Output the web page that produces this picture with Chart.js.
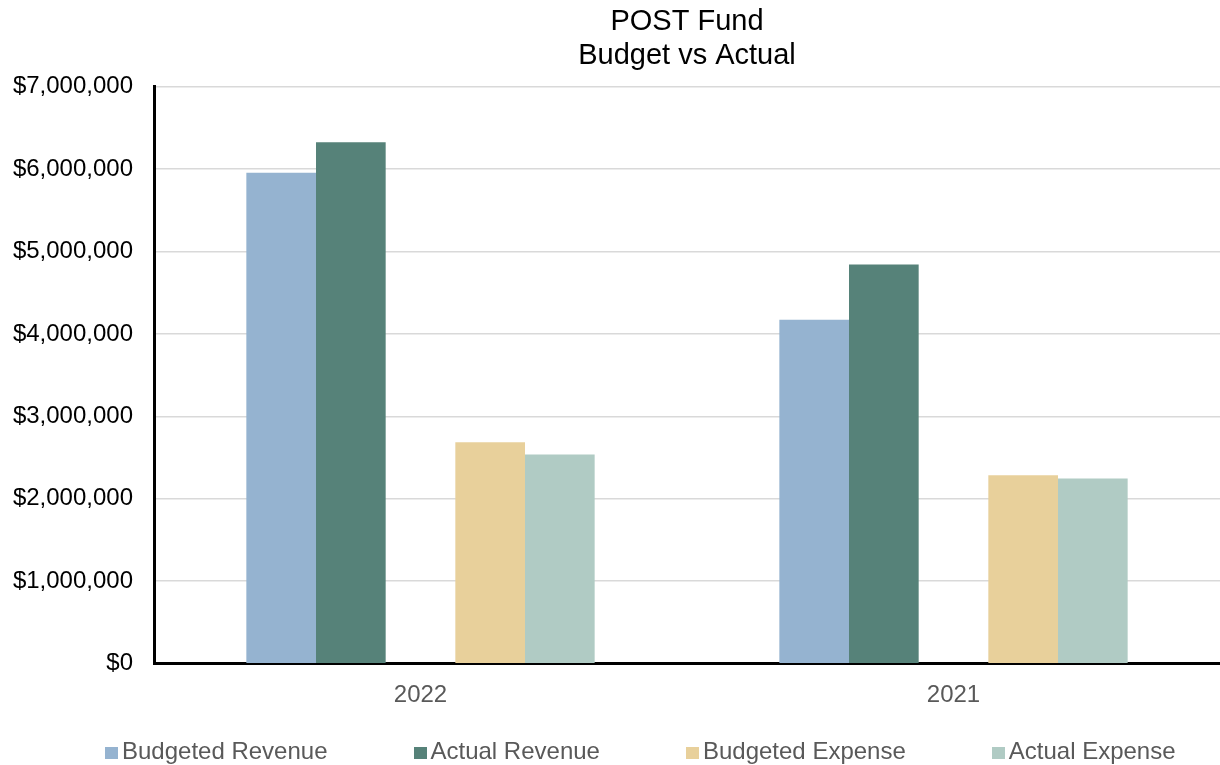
<!DOCTYPE html>
<html>
<head>
<meta charset="utf-8">
<script src="https://cdn.jsdelivr.net/npm/chart.js@4.4.0/dist/chart.umd.min.js"></script>
<style>
    body { margin: 0; background: #fff; }
    #wrap { position: relative; width: 1220px; height: 765px; }
    #legenda {
        position: absolute; left: 105px; top: 738px;
        display: flex; gap: 86px;
        font: 24px 'Liberation Sans', Arial, sans-serif; line-height: 26px;
        color: #595959; white-space: nowrap;
    }
    #legenda span.box { display: inline-block; width: 13px; height: 12px; margin-right: 4px; }
</style>
</head>
<body>
<div id="wrap">
    <canvas id="graficoFundo" width="1220" height="765"></canvas>
    <div id="legenda"></div>
</div>
<script>
const anos = ['2022', '2021'];
const receitaOrcada = [5954000, 4171000];
const receitaReal = [6323000, 4843000];
const despesaOrcada = [2687000, 2287000];
const despesaReal = [2538000, 2247000];
const ticksY = [0, 1000000, 2000000, 3000000, 4000000, 5000000, 6000000, 7000000];

Chart.defaults.font.family = "'Liberation Sans', Arial, sans-serif";

const ctx = document.getElementById('graficoFundo').getContext('2d');
const grafico = new Chart(ctx, {
    type: 'bar',
    data: {
        labels: anos,
        datasets: [
            { label: 'Budgeted Revenue', data: receitaOrcada, backgroundColor: '#95b3d0' },
            { label: 'Actual Revenue', data: receitaReal, backgroundColor: '#568279' },
            // serie vazia, so pra deixar o espaco entre receita e despesa
            { label: '', data: [null, null], backgroundColor: 'transparent' },
            { label: 'Budgeted Expense', data: despesaOrcada, backgroundColor: '#e8d09b' },
            { label: 'Actual Expense', data: despesaReal, backgroundColor: '#b0cbc4' }
        ]
    },
    options: {
        responsive: false,
        animation: false,
        categoryPercentage: 0.6535,
        barPercentage: 1,
        layout: { padding: { left: 0, right: 0, top: 0, bottom: 38.5 } },
        scales: {
            x: {
                grid: { display: false, drawTicks: false },
                border: { display: true, color: '#000', width: 3 },
                ticks: { color: '#595959', font: { size: 24 }, padding: 17 }
            },
            y: {
                min: 0,
                max: 7000000,
                afterBuildTicks: axis => { axis.ticks = ticksY.map(v => ({ value: v })); },
                afterFit: axis => { axis.width = 154; },
                grid: { color: '#d9d9d9', lineWidth: 1.5, drawTicks: false },
                border: { display: true, color: '#000', width: 3 },
                ticks: {
                    color: '#000',
                    font: { size: 24 },
                    padding: 21,
                    callback: v => '$' + Number(v).toLocaleString('en-US')
                }
            }
        },
        plugins: {
            legend: { display: false },
            tooltip: { enabled: false },
            title: {
                display: true,
                fullSize: false,
                text: ['POST Fund', 'Budget vs Actual'],
                color: '#000',
                font: { size: 29, weight: 'normal', lineHeight: 1.18 },
                padding: { top: 4.5, bottom: 13.6 }
            }
        }
    }
});

// legenda em html, montada a partir dos datasets
const legendaEl = document.getElementById('legenda');
grafico.data.datasets.forEach(ds => {
    if (!ds.label) return;
    const item = document.createElement('div');
    item.innerHTML = '<span class="box" style="background:' + ds.backgroundColor + '"></span>' + ds.label;
    legendaEl.appendChild(item);
});
</script>
</body>
</html>
